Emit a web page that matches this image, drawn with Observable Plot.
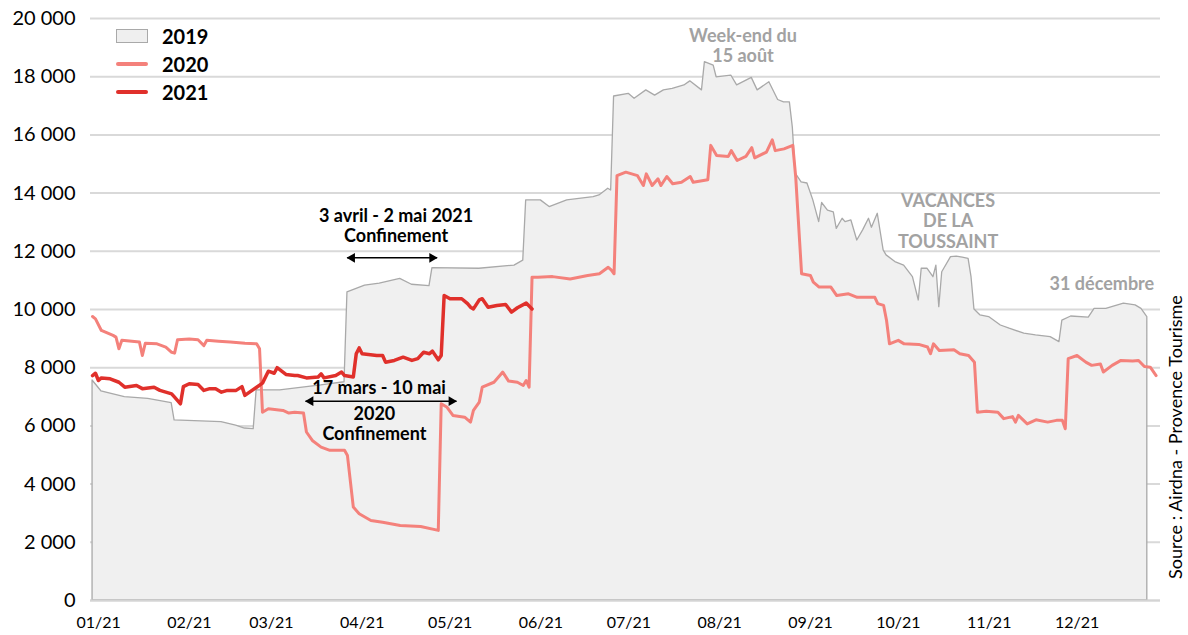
<!DOCTYPE html>
<html><head><meta charset="utf-8">
<script src="https://cdn.jsdelivr.net/npm/d3@7"></script>
<script src="https://cdn.jsdelivr.net/npm/@observablehq/plot@0.6"></script>
<style>
body{margin:0;background:#fff;font-family:Lato,"Open Sans",sans-serif;}
#wrap{position:relative;width:1188px;height:635px;overflow:hidden;}
#legend{position:absolute;left:116px;top:22px;font-weight:700;font-size:20px;color:#000;}
#legend .row{display:flex;align-items:center;height:28px;}
#legend .sw{width:32px;margin-right:14px;box-sizing:border-box;}
#source{position:absolute;left:1165px;top:579px;transform-origin:0 0;transform:rotate(-90deg);white-space:nowrap;font-size:18px;line-height:20px;color:#000;}
</style></head><body><div id="wrap"></div>
<script>
// x axis: day of year (0 = 1 January)
const monthStartDays = [0,31,59,90,120,151,181,212,243,273,304,334];
const monthLabels = ["01/21","02/21","03/21","04/21","05/21","06/21","07/21","08/21","09/21","10/21","11/21","12/21"];
const yTicks = [0,2000,4000,6000,8000,10000,12000,14000,16000,18000,20000];

// 2019 (area)
const days2019 = [0,3,11,19,27,28,44,49,52,55,56,64,71,78,86,87,93,98,105,109,115,116,132,144,147,148,153,156,162,171,173,176,177,178,183,185,189,192,195,198,202,204,208,209,212,213,218,220,225,227,231,234,236,238,239,240,242,244,246,248,249,251,253,254,256,257,259,261,263,265,266,268,270,271,274,277,280,282,283,285,287,288,289,290,293,295,297,299,300,301,303,306,310,313,318,322,327,330,331,334,340,342,346,350,352,356,358,360];
const values2019 = [7560,7190,6990,6930,6780,6190,6130,6010,5910,5890,7220,7220,7310,7390,7500,10590,10820,10890,11050,10850,10800,11420,11400,11510,11680,13750,13750,13520,13750,13860,13920,14150,14090,17320,17410,17240,17530,17350,17530,17580,17700,17840,17530,18500,18380,17980,18040,17700,17960,17530,17810,17200,17120,17120,16260,14670,14370,14330,13750,13000,13660,13400,13340,12770,13120,13000,13060,12370,12720,13120,12810,13290,12030,11860,11630,11510,11110,10310,11400,11400,11110,11510,10080,11280,11800,11820,11780,11740,11110,10000,9800,9740,9450,9340,9170,9110,9050,8880,9620,9760,9720,10020,10020,10140,10200,10140,10020,9740];

// 2020 (salmon line)
const days2020 = [0,1,3,7,8,9,10,16,17,18,22,25,27,28,29,33,36,38,39,43,47,52,56,57,58,60,65,67,69,72,73,75,78,81,86,87,89,91,95,99,105,112,118,119,121,123,127,129,130,132,133,137,139,140,142,145,147,148,149,150,152,157,163,169,173,176,177,178,179,182,186,188,189,191,193,194,196,198,201,204,205,210,211,213,217,218,220,223,225,226,230,232,233,236,239,240,242,245,246,248,252,254,258,261,267,268,270,271,272,275,277,282,285,286,287,289,294,296,299,301,302,305,309,311,314,315,316,319,322,326,329,331,332,333,336,339,341,344,345,348,351,355,357,359,361,363];
const values2020 = [9760,9680,9280,9110,9050,8650,8940,8880,8420,8840,8820,8710,8530,8500,8960,8990,8960,8760,8940,8910,8880,8840,8820,8650,6470,6590,6530,6440,6470,6440,5790,5500,5270,5160,5160,4980,3210,2980,2750,2690,2580,2540,2410,6760,6640,6360,6300,6130,6530,6820,7330,7500,7730,7850,7540,7500,7390,7560,7330,11110,11110,11130,11050,11170,11230,11450,11360,11230,14600,14720,14600,14260,14660,14260,14490,14260,14570,14320,14370,14570,14370,14460,15640,15290,15260,15460,15120,15260,15560,15210,15410,15830,15460,15520,15640,14550,11230,11170,10940,10770,10770,10480,10540,10420,10420,10200,10140,9620,8820,8940,8820,8800,8710,8480,8820,8590,8620,8480,8420,8190,6470,6500,6470,6250,6320,6130,6360,6070,6210,6130,6190,6190,5900,8310,8420,8190,8080,8130,7850,8080,8250,8230,8250,8040,8020,7730];

// 2021 (red line)
const days2021 = [0,1,2,3,6,9,11,15,17,21,23,27,28,30,31,33,36,38,40,42,44,46,49,51,52,56,58,60,62,63,66,69,70,73,77,78,79,83,85,86,89,90,91,92,97,99,100,103,106,109,111,113,115,116,118,119,120,122,126,128,129,130,132,133,135,138,141,143,145,148,150];
const values2021 = [7730,7810,7560,7650,7620,7500,7330,7390,7280,7330,7220,7100,6990,6760,7350,7450,7420,7220,7280,7280,7160,7220,7220,7350,7050,7330,7470,7880,7810,8000,7770,7730,7730,7650,7680,7790,7650,7730,7850,7730,7680,8480,8680,8480,8420,8420,8190,8250,8360,8250,8310,8530,8480,8570,8270,8420,10480,10370,10370,10200,10080,10020,10330,10370,10080,10140,10170,9910,10060,10220,10020];

// annotations (grey)
const noteTexts = ["Week-end du\n15 août", "VACANCES\nDE LA\nTOUSSAINT", "31 décembre"];
const noteDays = [222, 292, 344.5];
const noteValues = [19070, 13060, 10890];

// lockdown annotations (black)
const confTexts = ["3 avril - 2 mai 2021\nConfinement", "17 mars - 10 mai", "2020\nConfinement"];
const confDays = [103.6, 97.8, 96.2];
const confValues = [12885, 7330, 6080];
const arrowStartDays = [86.9, 72.7];
const arrowEndDays = [117.6, 124.2];
const arrowValues = [11775, 6850];

const zip = (xs, ys) => xs.map((d, i) => ({day: d, value: ys[i]}));
const data2019 = zip(days2019, values2019);
const data2020 = zip(days2020, values2020);
const data2021 = zip(days2021, values2021);
const notes = noteTexts.map((t, i) => ({text: t, day: noteDays[i], value: noteValues[i]}));
const confs = confTexts.map((t, i) => ({text: t, day: confDays[i], value: confValues[i]}));
const arrows = arrowValues.map((v, i) => ({x1: arrowStartDays[i], x2: arrowEndDays[i], value: v}));

const fmt = d => d3.format(",")(d).replace(/,/g, " ");

const chart = Plot.plot({
  width: 1188,
  height: 635,
  marginLeft: 90,
  marginRight: 28,
  marginTop: 18,
  marginBottom: 35,
  style: {fontFamily: "Lato, 'Open Sans', sans-serif", color: "#000", background: "#fff", overflow: "visible"},
  x: {domain: [-0.7, 364.5]},
  y: {domain: [0, 20000]},
  marks: [
    Plot.gridY(yTicks, {stroke: "#d9d9d9", strokeOpacity: 1, strokeWidth: 2}),
    Plot.areaY(data2019, {x: "day", y: "value", fill: "#f0f0f0", stroke: "#a9a9a9", strokeWidth: 1.3}),
    Plot.ruleY([0], {stroke: "#d4d4d4", strokeWidth: 2}),
    Plot.line(data2020, {x: "day", y: "value", stroke: "#F4817B", strokeWidth: 3}),
    Plot.line(data2021, {x: "day", y: "value", stroke: "#E0302B", strokeWidth: 3.5}),
    Plot.text(notes, {x: "day", y: "value", text: "text", fill: "#a2a2a2", fontSize: 18, fontWeight: 700, lineHeight: 1.14, textAnchor: "middle"}),
    Plot.text(confs, {x: "day", y: "value", text: "text", fill: "#000", fontSize: 18, fontWeight: 700, lineHeight: 1.1, textAnchor: "middle"}),
    Plot.link(arrows, {x1: "x1", x2: "x2", y1: "value", y2: "value", stroke: "#000", strokeWidth: 1.5}),
    Plot.dot(arrows, {x: "x1", y: "value", symbol: "triangle", rotate: -90, r: 3.6, fill: "#000", stroke: null, dx: 5}),
    Plot.dot(arrows, {x: "x2", y: "value", symbol: "triangle", rotate: 90, r: 3.6, fill: "#000", stroke: null, dx: -5}),
    Plot.axisY(yTicks, {tickSize: 0, tickPadding: 15, fontSize: 20, tickFormat: fmt, label: null}),
    Plot.axisX(monthStartDays, {tickSize: 0, tickPadding: 16, dx: 6, fontSize: 16, tickFormat: d => monthLabels[monthStartDays.indexOf(d)], label: null})
  ]
});

const wrap = document.getElementById("wrap");
wrap.appendChild(chart);

const legend = document.createElement("div");
legend.id = "legend";
legend.innerHTML =
  '<div class="row"><div class="sw" style="height:14px;background:#efefef;border:1.5px solid #a9a9a9"></div>2019</div>' +
  '<div class="row"><div class="sw" style="height:3.5px;background:#F4817B;border-radius:2px"></div>2020</div>' +
  '<div class="row"><div class="sw" style="height:4px;background:#E0302B;border-radius:2px"></div>2021</div>';
wrap.appendChild(legend);

const source = document.createElement("div");
source.id = "source";
source.textContent = "Source : Airdna - Provence Tourisme";
wrap.appendChild(source);
</script>
</body></html>
